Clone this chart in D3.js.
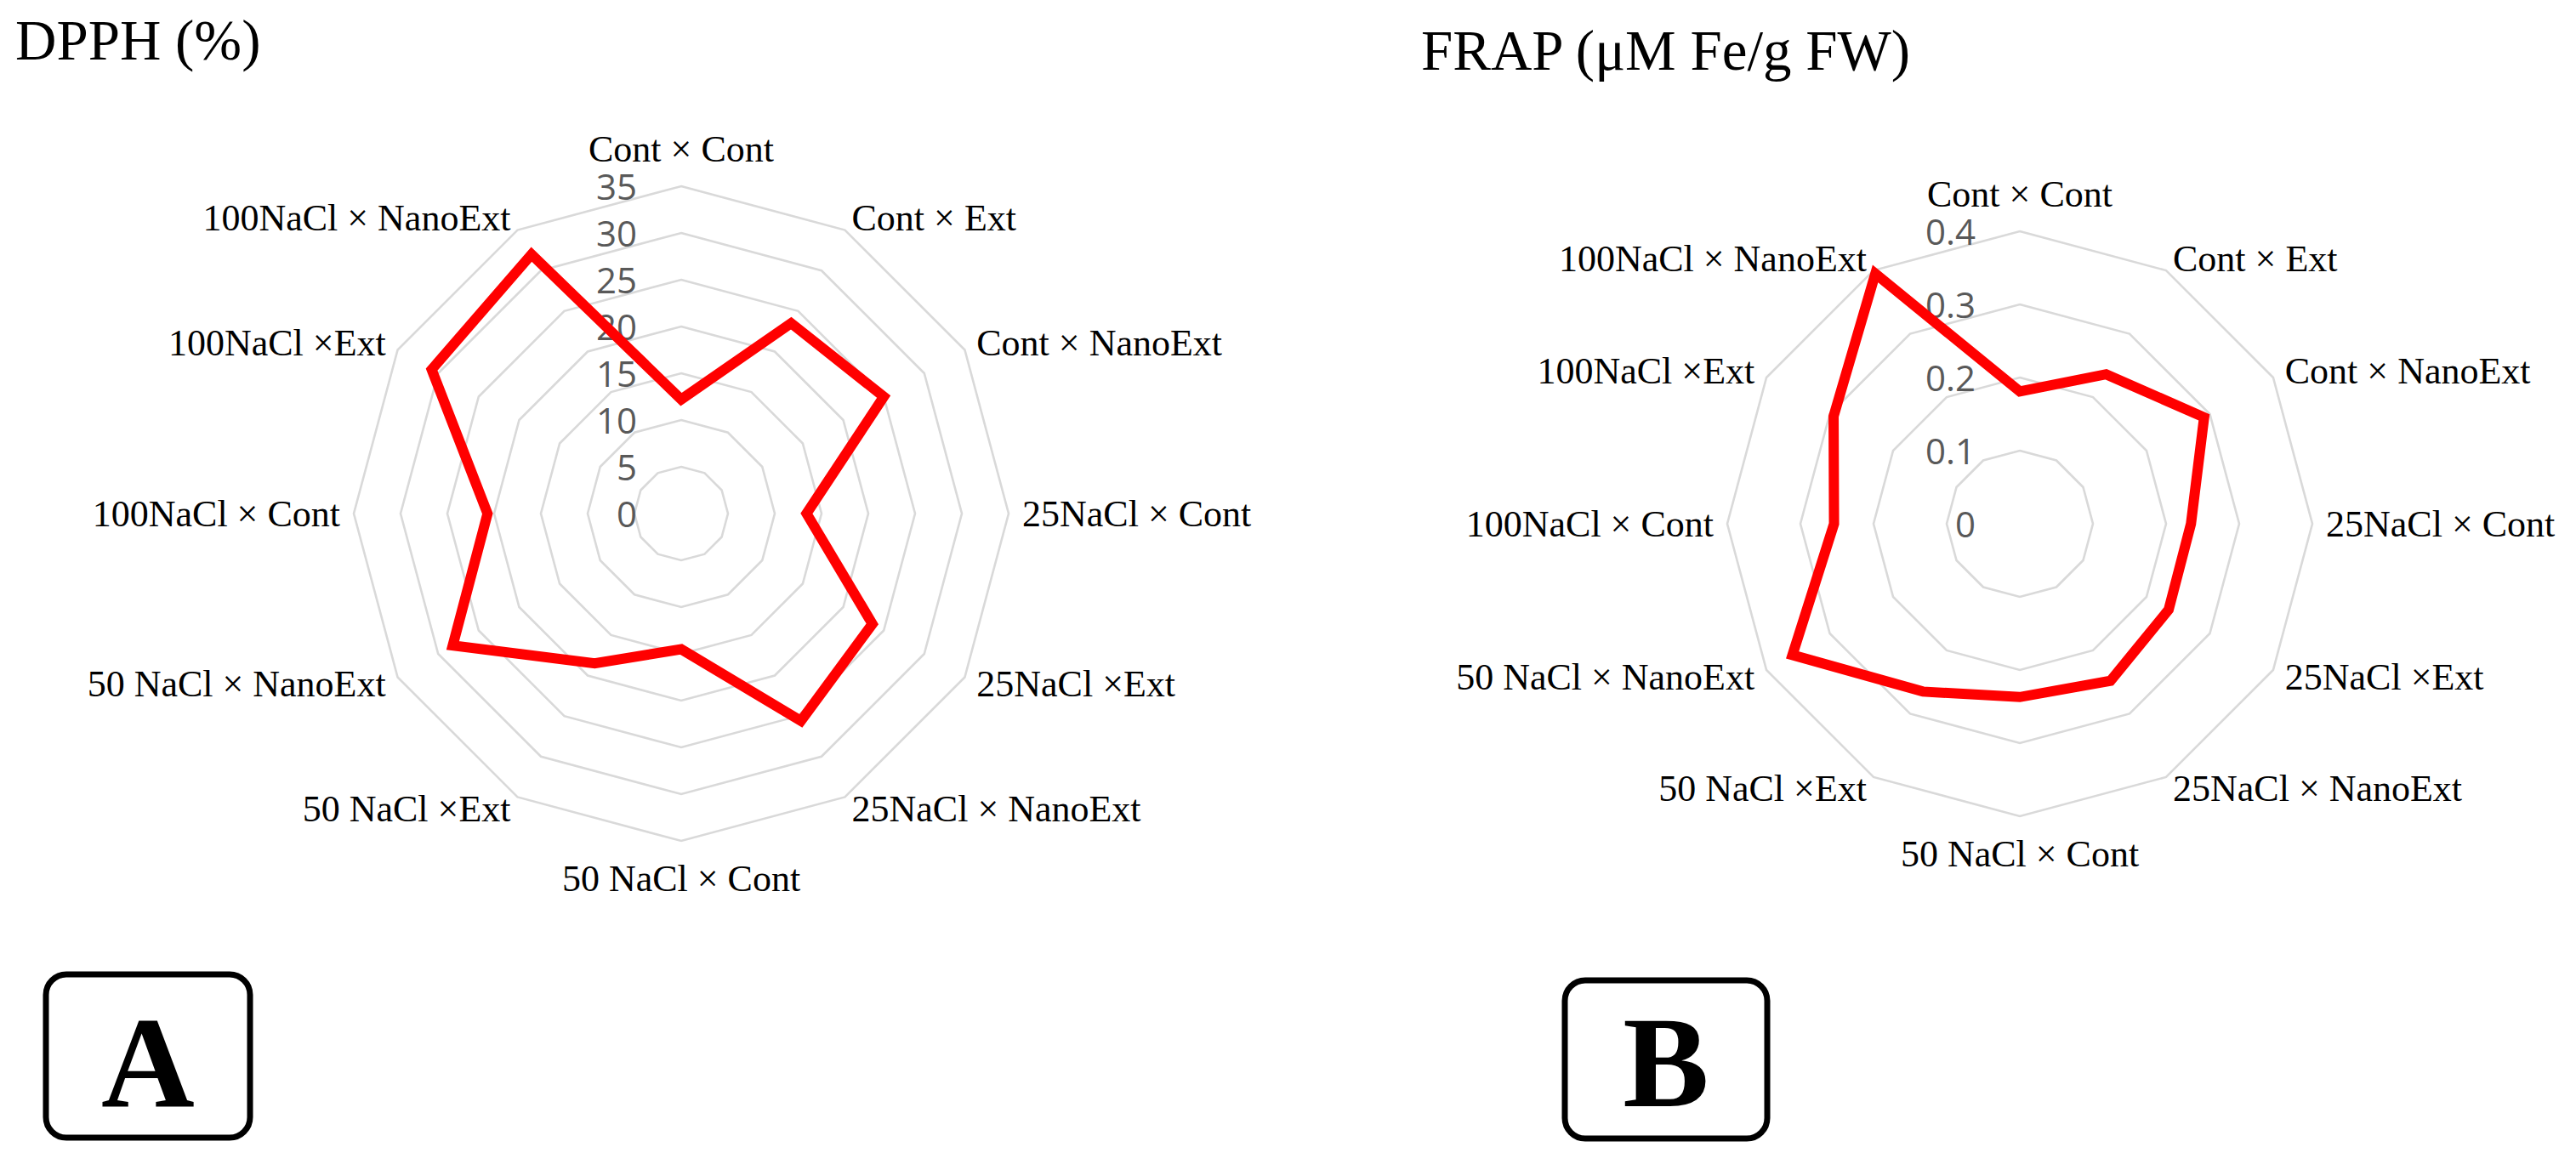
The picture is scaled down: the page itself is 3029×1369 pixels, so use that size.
<!DOCTYPE html>
<html>
<head>
<meta charset="utf-8">
<script src="https://cdn.jsdelivr.net/npm/d3@7"></script>
<style>
  body { margin: 0; background: #fff; }
  svg { display: block; }
</style>
</head>
<body>
<script>
var categories = [
  'Cont × Cont', 'Cont × Ext', 'Cont × NanoExt',
  '25NaCl × Cont', '25NaCl ×Ext', '25NaCl × NanoExt',
  '50 NaCl × Cont', '50 NaCl ×Ext', '50 NaCl × NanoExt',
  '100NaCl × Cont', '100NaCl ×Ext', '100NaCl × NanoExt'
];

var dpphValues = [12.2, 23.5, 25.0, 13.4, 23.6, 25.6, 14.5, 18.5, 28.2, 20.7, 30.8, 32.0];
var dpphTicks = [0, 5, 10, 15, 20, 25, 30, 35];

var frapValues = [0.181, 0.236, 0.291, 0.234, 0.235, 0.248, 0.237, 0.265, 0.359, 0.254, 0.294, 0.395];
var frapTicks = [0, 0.1, 0.2, 0.3, 0.4];

var width = 3029, height = 1369;

var svg = d3.select('body').append('svg')
    .attr('width', width)
    .attr('height', height);

function drawRadar(opts) {
  var g = svg.append('g')
      .attr('transform', 'translate(' + opts.cx + ',' + opts.cy + ')');

  var r = d3.scaleLinear()
      .domain([0, d3.max(opts.ticks)])
      .range([0, opts.radius]);

  var angle = d3.scaleLinear()
      .domain([0, categories.length])
      .range([0, 2 * Math.PI]);

  var radial = d3.lineRadial()
      .angle(function(d) { return angle(d.i); })
      .radius(function(d) { return r(d.v); })
      .curve(d3.curveLinearClosed);

  // grid rings, one per tick (skip 0)
  g.selectAll('.ring')
      .data(opts.ticks.filter(function(t) { return t > 0; }))
    .enter().append('path')
      .attr('class', 'ring')
      .attr('d', function(t) {
        return radial(categories.map(function(c, i) { return {i: i, v: t}; }));
      })
      .style('fill', 'none')
      .style('stroke', '#d9d9d9')
      .style('stroke-width', 2.6);

  // tick labels up the top spoke
  g.selectAll('.tick')
      .data(opts.ticks)
    .enter().append('text')
      .attr('class', 'tick')
      .attr('x', -52)
      .attr('y', function(t) { return -r(t); })
      .attr('dy', '0.38em')
      .attr('text-anchor', 'end')
      .style('font-family', '"Open Sans", sans-serif')
      .style('font-size', '42px')
      .style('fill', '#595959')
      .text(function(t) { return t; });

  // data line
  g.append('path')
      .datum(opts.values.map(function(v, i) { return {i: i, v: v}; }))
      .attr('d', radial)
      .style('fill', 'none')
      .style('stroke', '#ff0000')
      .style('stroke-width', 12)
      .style('stroke-linejoin', 'miter');

  // category labels
  var lr = opts.radius + 16;
  g.selectAll('.cat')
      .data(categories)
    .enter().append('text')
      .attr('class', 'cat')
      .attr('x', function(d, i) { return lr * Math.sin(angle(i)); })
      .attr('y', function(d, i) {
        var c = Math.cos(angle(i));
        var y = -lr * c;
        if (Math.abs(c) > 0.99) y -= c * 28;
        return y;
      })
      .attr('dy', '0.33em')
      .attr('text-anchor', function(d, i) {
        var s = Math.sin(angle(i));
        return s > 0.01 ? 'start' : (s < -0.01 ? 'end' : 'middle');
      })
      .style('font-family', '"Liberation Serif", "Times New Roman", serif')
      .style('font-size', '44px')
      .style('fill', '#000')
      .text(function(d) { return d; });
}

drawRadar({cx: 801, cy: 604, radius: 385, values: dpphValues, ticks: dpphTicks});
drawRadar({cx: 2375, cy: 616, radius: 344, values: frapValues, ticks: frapTicks});

// panel titles
svg.append('text')
    .attr('x', 18).attr('y', 70)
    .style('font-family', '"Liberation Serif", "Times New Roman", serif')
    .style('font-size', '67px')
    .text('DPPH (%)');

svg.append('text')
    .attr('x', 1671).attr('y', 82)
    .style('font-family', '"Liberation Serif", "Times New Roman", serif')
    .style('font-size', '67px')
    .text('FRAP (μM Fe/g FW)');

// A / B boxes
var panels = [
  {label: 'A', x: 54, y: 1146, w: 240, h: 192},
  {label: 'B', x: 1840, y: 1153, w: 238, h: 186}
];

var box = svg.selectAll('.panel')
    .data(panels)
  .enter().append('g')
    .attr('class', 'panel');

box.append('rect')
    .attr('x', function(d) { return d.x; })
    .attr('y', function(d) { return d.y; })
    .attr('width', function(d) { return d.w; })
    .attr('height', function(d) { return d.h; })
    .attr('rx', 24)
    .style('fill', 'none')
    .style('stroke', '#000')
    .style('stroke-width', 7);

box.append('text')
    .attr('x', function(d) { return d.x + d.w / 2; })
    .attr('y', 1301)
    .attr('text-anchor', 'middle')
    .style('font-family', '"Liberation Serif", "Times New Roman", serif')
    .style('font-weight', 'bold')
    .style('font-size', '152px')
    .text(function(d) { return d.label; });
</script>
</body>
</html>
